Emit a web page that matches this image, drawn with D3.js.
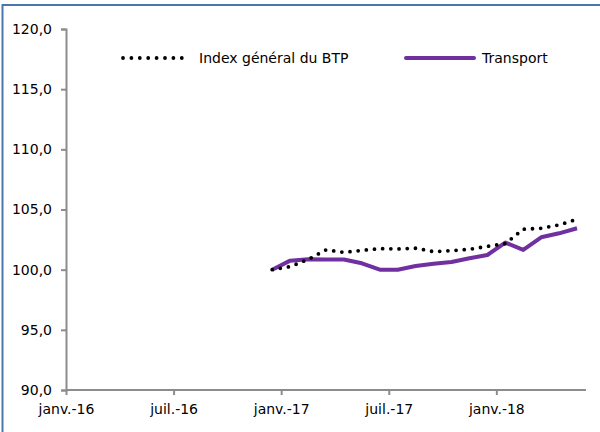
<!DOCTYPE html>
<html><head><meta charset="utf-8">
<script src="https://cdn.jsdelivr.net/npm/d3@7"></script>
<style>body{margin:0;background:#fff}svg{display:block}text{font-family:"DejaVu Sans",sans-serif;font-size:14px;fill:#000}</style>
</head><body>
<script>
// month index: 0 = janv. 2016 ; points sit mid-month
const months = d3.range(11, 29); // déc.-16 .. mai-18
const indexGeneral = [100.0,100.25,100.85,101.64,101.44,101.6,101.75,101.72,101.78,101.5,101.58,101.69,101.94,102.16,103.36,103.44,103.72,104.19];
const transport = [100.0,100.75,100.86,100.85,100.85,100.53,100.0,100.0,100.3,100.5,100.64,100.95,101.22,102.25,101.64,102.69,103.02,103.44];
const xTickMonths = [0,6,12,18,24];
const xTickLabels = ["janv.-16","juil.-16","janv.-17","juil.-17","janv.-18"];
const yTicks = [90,95,100,105,110,115,120];
const seriesNames = ["Index général du BTP","Transport"];

const W=600,H=432;
const svg=d3.select("body").append("svg").attr("width",W).attr("height",H);
svg.append("rect").attr("x",2.5).attr("y",5).attr("width",W+10).attr("height",H+10)
  .attr("fill","none").attr("stroke","#4a76b0").attr("stroke-width",2);

const x=d3.scaleLinear().domain([0,29]).range([66,586]);
const y=d3.scaleLinear().domain([90,120]).range([390,29]);
const axisColor="#8c8c8c";

const gy=svg.append("g").attr("transform","translate(66,0)")
  .call(d3.axisLeft(y).tickValues(yTicks).tickSize(5).tickPadding(9).tickFormat(d=>d3.format(".1f")(d).replace(".",",")));
const gx=svg.append("g").attr("transform","translate(0,390)")
  .call(d3.axisBottom(x).tickValues(xTickMonths).tickSize(5).tickPadding(9).tickFormat((d,i)=>xTickLabels[i]));
[gx,gy].forEach(g=>{
  g.select(".domain").attr("stroke",axisColor).attr("stroke-width",2);
  g.selectAll(".tick line").attr("stroke",axisColor).attr("stroke-width",2);
  g.selectAll("text").attr("font-size",null).attr("font-family",null).attr("fill","#000");
});
gx.select(".domain").attr("d","M66,0H586");

const line=d3.line().x((d,i)=>x(months[i]+0.5)).y(d=>y(d));
svg.append("path").datum(transport).attr("d",line).attr("fill","none")
  .attr("stroke","#7030a0").attr("stroke-width",4).attr("stroke-linejoin","round");
svg.append("path").datum(indexGeneral).attr("d",line).attr("fill","none")
  .attr("stroke","#000").attr("stroke-width",3.8).attr("stroke-linecap","round")
  .attr("stroke-dasharray","0 8.2");

// legend
const lg=svg.append("g");
lg.append("line").attr("x1",123).attr("x2",190).attr("y1",58).attr("y2",58)
  .attr("stroke","#000").attr("stroke-width",3.8).attr("stroke-linecap","round").attr("stroke-dasharray","0 8.4");
lg.append("text").attr("x",199).attr("y",58).attr("dy","0.35em").text(seriesNames[0]);
lg.append("line").attr("x1",406).attr("x2",474).attr("y1",58).attr("y2",58)
  .attr("stroke","#7030a0").attr("stroke-width",4).attr("stroke-linecap","round");
lg.append("text").attr("x",482).attr("y",58).attr("dy","0.35em").text(seriesNames[1]);
</script>
</body></html>
